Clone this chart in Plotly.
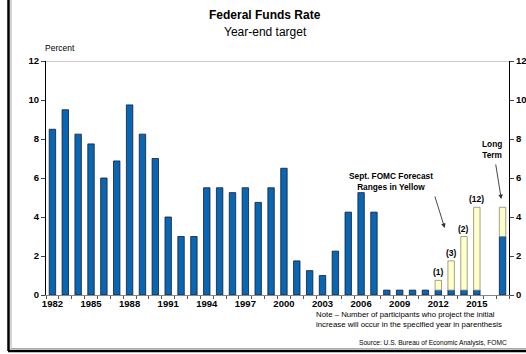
import plotly.graph_objects as go

# ---- data ----
years = [str(y) for y in range(1982, 2017)] + ["Long Term"]
fed_funds = [8.5, 9.5, 8.25, 7.75, 6.0, 6.875, 9.75, 8.25, 7.0, 4.0,
             3.0, 3.0, 5.5, 5.5, 5.25, 5.5, 4.75, 5.5, 6.5, 1.75,
             1.25, 1.0, 2.25, 4.25, 5.25, 4.25, 0.25, 0.25, 0.25, 0.25,
             0.25, 0.25, 0.25, 0.25, None, 3.0]
forecast_years = ["2012", "2013", "2014", "2015", "Long Term"]
forecast_low = [0.25, 0.25, 0.25, 0.25, 3.0]
forecast_high = [0.75, 1.75, 3.0, 4.5, 4.5]
participants = ["(1)", "(3)", "(2)", "(12)", None]
label_years = ["1982", "1985", "1988", "1991", "1994", "1997", "2000",
               "2003", "2006", "2009", "2012", "2015"]
y_ticks = [0, 2, 4, 6, 8, 10, 12]

BLUE = "#0867B5"
YELLOW = "#FFFFCC"
FONT = "Liberation Sans, Arial, sans-serif"

# layout geometry (page px; body margin removed below)
W, H = 526, 354
L, R, T, B = 46, 17, 61, 59
PW, PH = W - L - R, H - T - B


def px_x(px):
    return (px - L) / PW


def px_y(py):
    return (H - B - py) / PH


fig = go.Figure()
fig.add_trace(go.Bar(
    x=years, y=fed_funds, marker=dict(color=BLUE, line=dict(color="#1a1a2a", width=0.8)),
    width=0.5, showlegend=False, hoverinfo="skip"))
fig.add_trace(go.Bar(
    x=forecast_years, y=[h - l for h, l in zip(forecast_high, forecast_low)],
    base=forecast_low, marker=dict(color=YELLOW, line=dict(color="#8a8a70", width=0.8)),
    width=0.5, showlegend=False, hoverinfo="skip"))
# invisible trace to activate right axis
fig.add_trace(go.Scatter(x=[years[0]], y=[0], yaxis="y2", mode="markers",
                         marker=dict(opacity=0), showlegend=False, hoverinfo="skip"))

ticktext = [y if y in label_years else "" for y in years]

fig.update_layout(
    width=W, height=H, margin=dict(l=L, r=R, t=T, b=B, autoexpand=False),
    paper_bgcolor="white", plot_bgcolor="white", barmode="overlay",
    font=dict(family=FONT, color="black"),
    xaxis=dict(type="category", categoryorder="array", categoryarray=years,
               tickmode="array", tickvals=years, ticktext=ticktext, tickangle=0,
               tickson="boundaries", ticks="outside", ticklen=3, tickcolor="#555",
               showline=True, linecolor="#888", linewidth=1, showgrid=False,
               tickfont=dict(size=9.5, family=FONT, weight="bold"), range=[-0.5, 35.5]),
    yaxis=dict(range=[0, 12], tickvals=y_ticks, ticks="outside", ticklen=4,
               showline=True, linecolor="black", linewidth=1, showgrid=False,
               zeroline=False, tickfont=dict(size=9.5, family=FONT, weight="bold")),
    yaxis2=dict(range=[0, 12], tickvals=y_ticks, ticks="outside", ticklen=4,
                overlaying="y", side="right", showline=True, linecolor="black",
                linewidth=1, showgrid=False, zeroline=False,
                tickfont=dict(size=9.5, family=FONT, weight="bold")),
)

# top reference line at 12
fig.add_shape(type="line", xref="paper", yref="y", x0=0, x1=1, y0=12, y1=12,
              line=dict(color="#cccccc", width=2), layer="below")

# frame border
fig.add_shape(type="line", xref="paper", yref="paper", x0=px_x(8.5), x1=px_x(8.5),
              y0=px_y(0), y1=px_y(351), line=dict(color="black", width=2.5))
fig.add_shape(type="line", xref="paper", yref="paper", x0=px_x(8), x1=px_x(540),
              y0=px_y(351), y1=px_y(351), line=dict(color="black", width=2.5))
fig.add_shape(type="line", xref="paper", yref="paper", x0=px_x(11), x1=px_x(11),
              y0=px_y(0), y1=px_y(349), line=dict(color="#aaaaaa", width=1))
fig.add_shape(type="line", xref="paper", yref="paper", x0=px_x(11), x1=px_x(540),
              y0=px_y(348.5), y1=px_y(348.5), line=dict(color="#aaaaaa", width=1))

# titles
fig.add_annotation(text="<b>Federal Funds Rate</b>", xref="paper", yref="paper",
                   x=px_x(265), y=px_y(15), showarrow=False, xanchor="center",
                   yanchor="middle", font=dict(size=12, family=FONT))
fig.add_annotation(text="Year-end target", xref="paper", yref="paper",
                   x=px_x(265), y=px_y(32), showarrow=False, xanchor="center",
                   yanchor="middle", font=dict(size=12, family=FONT))
fig.add_annotation(text="Percent", xref="paper", yref="paper",
                   x=px_x(43), y=px_y(48), showarrow=False, xanchor="left",
                   yanchor="middle", font=dict(size=8.5, family=FONT))

# participant counts (placed by category index)
for yr, hi, p in zip(forecast_years, forecast_high, participants):
    if p:
        fig.add_annotation(text=f"<b>{p}</b>", x=years.index(yr), y=hi, xref="x", yref="y",
                           showarrow=False, yanchor="bottom", yshift=1,
                           font=dict(size=8.5, family=FONT))

# forecast label + arrow
fig.add_annotation(text="<b>Sept. FOMC Forecast<br>Ranges in Yellow</b>",
                   x=26.3, y=5.8, xref="x", yref="y", showarrow=False,
                   font=dict(size=8.3, family=FONT), align="center")
fig.add_annotation(text="", x=30.5, y=3.44, ax=29.7, ay=5.13, xref="x", yref="y",
                   axref="x", ayref="y", showarrow=True, arrowhead=2, arrowsize=1,
                   arrowwidth=0.9, arrowcolor="#333")
fig.add_annotation(text="<b>Long<br>Term</b>", x=34.15, y=7.44, xref="x", yref="y",
                   showarrow=False, font=dict(size=8.3, family=FONT), align="center")
fig.add_annotation(text="", x=34.9, y=4.92, ax=34.45, ay=6.77, xref="x", yref="y",
                   axref="x", ayref="y", showarrow=True, arrowhead=2, arrowsize=1,
                   arrowwidth=0.9, arrowcolor="#333")

# note and source
fig.add_annotation(text="Note \u2013 Number of participants who project the initial<br>"
                        "increase will occur in the specified year in parenthesis",
                   xref="paper", yref="paper", x=px_x(314), y=px_y(319.5),
                   showarrow=False, xanchor="left", yanchor="middle", align="left",
                   font=dict(size=7.8, family=FONT))
fig.add_annotation(text="Source: U.S. Bureau of Economic Analysis, FOMC",
                   xref="paper", yref="paper", x=px_x(509), y=px_y(343),
                   showarrow=False, xanchor="right", yanchor="middle",
                   font=dict(size=6.6, family=FONT))

fig.write_html("out.html", config={"displayModeBar": False},
               post_script="document.body.style.margin='0px';document.body.style.overflow='hidden';")
